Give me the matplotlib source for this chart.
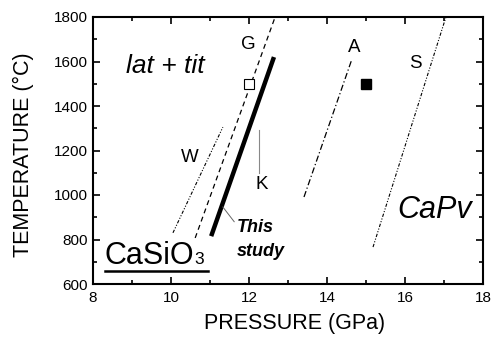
import matplotlib
matplotlib.use("Agg")
import matplotlib.pyplot as plt
from matplotlib.ticker import MultipleLocator

plt.rcParams['font.family'] = ['Liberation Sans', 'DejaVu Sans']

# boundary lines (pressure GPa, temperature C)
w_p = [10.05, 11.33]; w_t = [830, 1305]
g_p = [10.62, 12.67]; g_t = [807, 1800]
this_p = [11.03, 12.64]; this_t = [815, 1620]
k_p = [12.25, 12.25]; k_t = [1100, 1290]
a_p = [13.41, 14.64]; a_t = [991, 1611]
s_p = [15.18, 17.05]; s_t = [766, 1800]
open_sq = (12.0, 1500)
filled_sq = (15.0, 1500)

fig = plt.figure(figsize=(4.92, 3.37), dpi=100)
ax = fig.add_axes([93/492, 1-284/337, 390/492, 267/337])
ax.set_xlim(8, 18)
ax.set_ylim(600, 1800)

ax.plot(w_p, w_t, color='black', lw=0.8, dashes=[3, 1.5, 1, 1.5, 1, 1.5])
ax.plot(g_p, g_t, color='black', lw=0.9, dashes=[4, 3])
ax.plot(this_p, this_t, color='black', lw=3.2, solid_capstyle='butt')
ax.plot(k_p, k_t, color='#888888', lw=0.8)
ax.plot(a_p, a_t, color='black', lw=0.9, dashes=[5, 2, 1, 2])
ax.plot(s_p, s_t, color='black', lw=0.8, dashes=[3, 1.5, 1, 1.5, 1, 1.5])
ax.plot([open_sq[0]], [open_sq[1]], marker='s', ms=7, mfc='white', mec='black', mew=0.8, ls='none')
ax.plot([filled_sq[0]], [filled_sq[1]], marker='s', ms=7, mfc='black', mec='black', ls='none')

# leader for "This study"
ax.plot([11.33, 11.62], [946, 880], color='#666666', lw=0.7)

ax.text(9.85, 1582, 'lat + tit', style='italic', fontsize=19, ha='center', va='center')
ax.text(11.97, 1676, 'G', fontsize=13.5, ha='center', va='center')
ax.text(14.69, 1665, 'A', fontsize=13.5, ha='center', va='center')
ax.text(16.26, 1593, 'S', fontsize=13.5, ha='center', va='center')
ax.text(10.49, 1170, 'W', fontsize=13.5, ha='center', va='center')
ax.text(12.33, 1045, 'K', fontsize=13.5, ha='center', va='center')
ax.text(16.77, 933, 'CaPv', style='italic', fontsize=22, ha='center', va='center')
ax.text(11.68, 856, 'This', style='italic', weight='bold', fontsize=13, ha='left', va='center')
ax.text(11.68, 744, 'study', style='italic', weight='bold', fontsize=13, ha='left', va='center')
ax.text(8.3, 688, 'CaSiO', fontsize=22, ha='left', va='baseline')
ax.text(10.6, 688, '3', fontsize=12.5, ha='left', va='baseline')
ax.plot([8.31, 10.95], [657, 657], color='black', lw=1.8, clip_on=False)

ax.set_xlabel('PRESSURE (GPa)', fontsize=15.5)
ax.set_ylabel('TEMPERATURE (\u00b0C)', fontsize=15.5)
ax.xaxis.set_label_coords((295-93)/390, -(324-284)/267)
ax.yaxis.set_label_coords((23-93)/390, (284-155)/267)
ax.xaxis.label.set_va('center')
ax.yaxis.label.set_va('center')
ax.xaxis.set_major_locator(MultipleLocator(2))
ax.xaxis.set_minor_locator(MultipleLocator(1))
ax.yaxis.set_major_locator(MultipleLocator(200))
ax.yaxis.set_minor_locator(MultipleLocator(100))
ax.tick_params(which='both', direction='in', top=True, right=True, labelsize=11, width=1.2)
ax.tick_params(which='major', length=5)
ax.tick_params(which='minor', length=3)
ax.tick_params(axis='x', pad=5)
for sp in ax.spines.values():
    sp.set_linewidth(1.5)

fig.savefig('out.png', dpi=100)
